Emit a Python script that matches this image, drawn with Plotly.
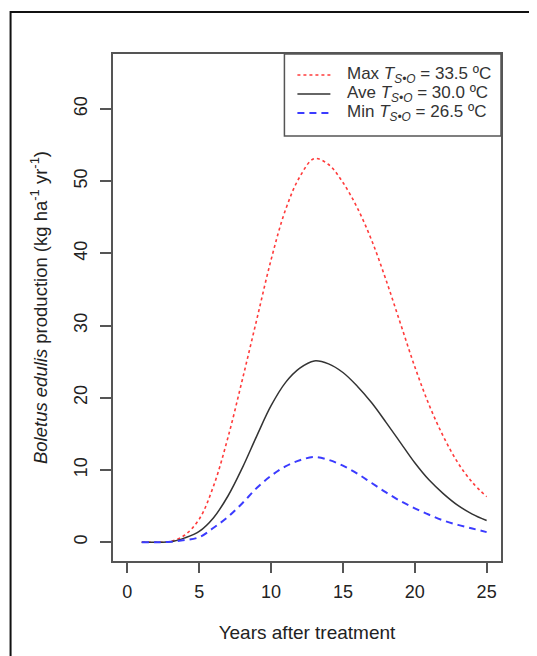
import plotly.graph_objects as go

years = list(range(1, 26))
max_ts = [0, 0, 0.1, 1.0, 3.2, 7.8, 14.5, 22.5, 30.8, 39.1, 46.0, 50.6, 53.1, 52.3,
          49.8, 46.3, 41.8, 36.3, 30.3, 24.3, 19.0, 14.6, 11.0, 8.3, 6.3]
ave_ts = [0, 0, 0.05, 0.6, 1.5, 3.4, 6.4, 10.3, 14.7, 18.9, 22.1, 24.1, 25.1, 24.7,
          23.5, 21.6, 19.3, 16.6, 13.8, 11.0, 8.6, 6.7, 5.1, 3.9, 3.0]
min_ts = [0, 0, 0.05, 0.3, 0.7, 2.0, 3.5, 5.4, 7.5, 9.2, 10.5, 11.35, 11.8, 11.4,
          10.6, 9.5, 8.2, 6.9, 5.7, 4.7, 3.8, 3.0, 2.4, 1.9, 1.4]
names = ["Max <i>T</i><sub><i>S•O</i></sub> = 33.5 ºC",
         "Ave <i>T</i><sub><i>S•O</i></sub> = 30.0 ºC",
         "Min <i>T</i><sub><i>S•O</i></sub> = 26.5 ºC"]
x_ticks = [0, 5, 10, 15, 20, 25]
y_ticks = [0, 10, 20, 30, 40, 50, 60]

FONT = "Liberation Sans, Arial, sans-serif"
styles = [dict(color="#ff3b3b", width=1.6, dash="dot"),
          dict(color="#333333", width=1.5, dash="solid"),
          dict(color="#3b3bff", width=2, dash="7px,5px")]

fig = go.Figure()
for vals, nm, st in zip([max_ts, ave_ts, min_ts], names, styles):
    fig.add_trace(go.Scatter(x=years, y=vals, mode="lines", name=nm,
                             line=dict(shape="spline", smoothing=1, **st)))

# manual legend (R-style box in the top-right corner)
leg_y = [0.9586, 0.9211, 0.8836]
shapes = [dict(type="rect", xref="paper", yref="paper",
               x0=-0.264, x1=1.3, y0=-0.4, y1=1.083,
               line=dict(color="#111111", width=2), layer="below"),
          dict(type="rect", xref="paper", yref="paper",
               x0=0.4418, x1=1.0, y0=0.8383, y1=1.0,
               line=dict(color="#555555", width=1.5), fillcolor="white", layer="above")]
annotations = []
for yy, nm, st in zip(leg_y, names, styles):
    shapes.append(dict(type="line", xref="paper", yref="paper",
                       x0=0.4753, x1=0.5603, y0=yy, y1=yy, line=st, layer="above"))
    annotations.append(dict(text=nm, xref="paper", yref="paper", x=0.5989, y=yy,
                            xanchor="left", yanchor="middle", showarrow=False,
                            font=dict(family=FONT, size=17, color="#333333")))

fig.update_layout(
    width=529, height=648,
    margin=dict(l=104.5, r=36.3, t=46, b=95, pad=0),
    paper_bgcolor="white", plot_bgcolor="white",
    font=dict(family=FONT, size=18, color="#222222"),
    showlegend=False,
    xaxis=dict(range=[-1, 26], tickvals=x_ticks, ticks="outside", ticklen=10,
               tickwidth=1.5, tickcolor="#555555", showgrid=False, zeroline=False,
               showline=True, linecolor="#555555", linewidth=1.5, mirror=True,
               tickfont=dict(size=18, color="#222222"), ticklabelstandoff=4,
               title=dict(text="Years after treatment", standoff=24,
                          font=dict(size=19, color="#222222"))),
    yaxis=dict(range=[-2.6, 67.6], tickvals=y_ticks, ticks="outside", ticklen=11,
               tickwidth=1.5, tickcolor="#555555", showgrid=False, zeroline=False,
               showline=True, linecolor="#555555", linewidth=1.5, mirror=True,
               tickangle=-90, tickfont=dict(size=18, color="#222222"),
               ticklabelstandoff=6,
               title=dict(text="<i>Boletus edulis</i> production (kg ha<sup>-1</sup> yr<sup>-1</sup>)",
                          standoff=19, font=dict(size=18.5, color="#222222"))),
    shapes=shapes,
    annotations=annotations,
)

fig.write_html("out.html")
